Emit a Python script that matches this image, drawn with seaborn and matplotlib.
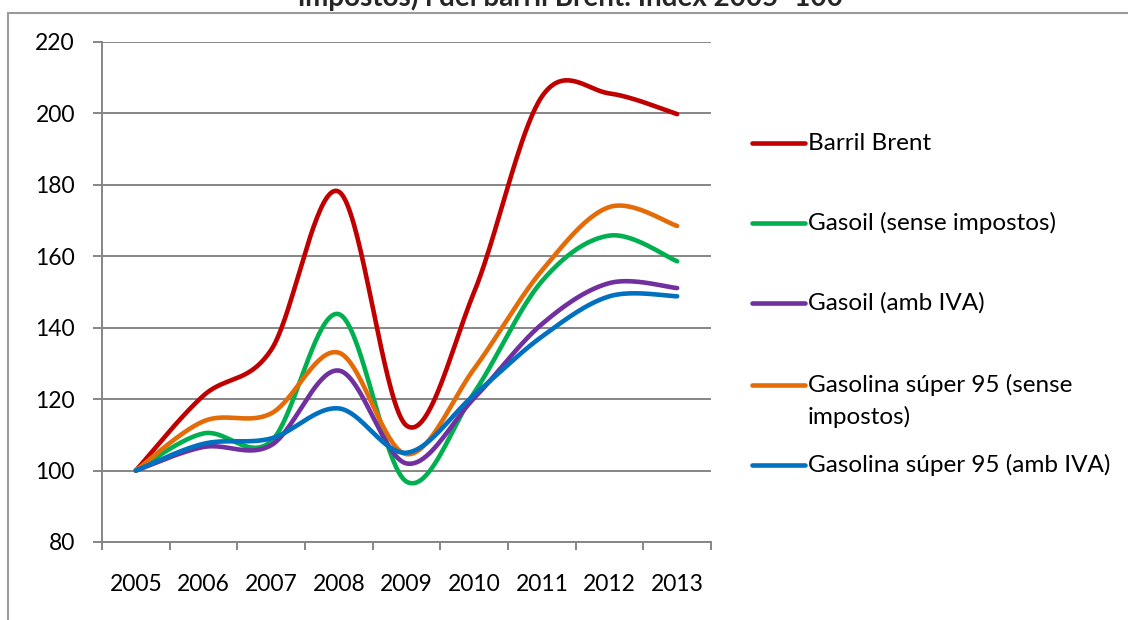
import numpy as np
import pandas as pd
import seaborn as sns
import matplotlib.pyplot as plt
from matplotlib.lines import Line2D

# Index 2005 = 100
years = ['2005', '2006', '2007', '2008', '2009', '2010', '2011', '2012', '2013']
barril_brent = [100, 121.0, 133.8, 178.1, 112.6, 150.0, 204.7, 205.6, 199.8]
gasoil_sense = [100, 110.4, 108.2, 143.8, 96.9, 121.8, 153.0, 165.8, 158.6]
gasoil_iva = [100, 106.6, 107.1, 128.0, 102.0, 120.3, 141.0, 152.5, 151.1]
gasolina_sense = [100, 113.8, 116.0, 133.0, 104.6, 128.5, 156.0, 173.8, 168.5]
gasolina_iva = [100, 107.5, 109.0, 117.4, 105.0, 121.2, 137.5, 148.8, 148.8]

series_names = ['Barril Brent', 'Gasoil (sense impostos)', 'Gasoil (amb IVA)',
                'Gasolina súper 95 (sense impostos)', 'Gasolina súper 95 (amb IVA)']
legend_lines = [['Barril Brent'], ['Gasoil (sense impostos)'], ['Gasoil (amb IVA)'],
                ['Gasolina súper 95 (sense', 'impostos)'], ['Gasolina súper 95 (amb IVA)']]
colors = ['#C00000', '#00B050', '#7030A0', '#E36C09', '#0070C0']
values = [barril_brent, gasoil_sense, gasoil_iva, gasolina_sense, gasolina_iva]


# Excel-style "smoothed line": cubic Bezier segments through each point
def smooth(y, steps=40):
    y = np.asarray(y, dtype=float)
    x = np.arange(len(y), dtype=float)
    xp = np.concatenate([[x[0]], x, [x[-1]]])
    yp = np.concatenate([[y[0]], y, [y[-1]]])
    xs, ys = [], []
    t = np.linspace(0, 1, steps, endpoint=False)
    for i in range(len(y) - 1):
        p0 = np.array([x[i], y[i]])
        p3 = np.array([x[i + 1], y[i + 1]])
        p1 = p0 + (np.array([xp[i + 2], yp[i + 2]]) - np.array([xp[i], yp[i]])) / 6
        p2 = p3 - (np.array([xp[i + 3], yp[i + 3]]) - np.array([xp[i + 1], yp[i + 1]])) / 6
        seg = ((1 - t) ** 3)[:, None] * p0 + (3 * (1 - t) ** 2 * t)[:, None] * p1 \
            + (3 * (1 - t) * t ** 2)[:, None] * p2 + (t ** 3)[:, None] * p3
        xs.extend(seg[:, 0])
        ys.extend(seg[:, 1])
    xs.append(x[-1])
    ys.append(y[-1])
    return xs, ys


frames = []
for name, vals in zip(series_names, values):
    xs, ys = smooth(vals)
    frames.append(pd.DataFrame({'x': xs, 'index': ys, 'serie': name}))
df = pd.concat(frames, ignore_index=True)

sns.set_theme(style='white')
plt.rcParams['font.family'] = ['Lato', 'DejaVu Sans']

fig = plt.figure(figsize=(11.28, 6.2), dpi=100)
ax = fig.add_axes([102 / 1128, 1 - 542 / 620, (711 - 102) / 1128, 500 / 620])

sns.lineplot(data=df, x='x', y='index', hue='serie', hue_order=series_names,
             palette=dict(zip(series_names, colors)), estimator=None, sort=False,
             linewidth=3.3, legend=False, ax=ax, solid_capstyle='round')

grid_color = '#868686'
fs = 16.5
ax.set_ylim(80, 220)
ax.set_yticks(range(80, 221, 20))
ax.set_xlim(-0.5, len(years) - 0.5)
ax.set_xticks(np.arange(len(years) + 1) - 0.5)
ax.set_xticklabels([])
ax.set_xticks(range(len(years)), minor=True)
ax.set_xticklabels(years, minor=True)
ax.yaxis.grid(True, color=grid_color, linewidth=1.4)
ax.set_axisbelow(True)
ax.set_xlabel('')
ax.set_ylabel('')
for side in ['top', 'right']:
    ax.spines[side].set_visible(False)
for side in ['left', 'bottom']:
    ax.spines[side].set_color(grid_color)
    ax.spines[side].set_linewidth(1.4)
ax.tick_params(axis='y', which='major', direction='out', length=6.5, width=1.4,
               color=grid_color, left=True, pad=13, labelsize=fs, labelcolor='black')
ax.tick_params(axis='x', which='major', direction='out', length=6, width=1.4,
               color=grid_color, bottom=True)
ax.tick_params(axis='x', which='minor', length=0, pad=23, labelsize=fs,
               labelcolor='black')

# legend drawn on the right, as in the spreadsheet chart
leg_y = [143, 223, 303, 385, 465]
for lines, col, yy in zip(legend_lines, colors, leg_y):
    fy = 1 - yy / 620
    fig.add_artist(Line2D([752 / 1128, 805 / 1128], [fy, fy], color=col,
                          linewidth=3.3, solid_capstyle='round'))
    for k, txt in enumerate(lines):
        fig.text(808 / 1128, fy - k * 32 / 620, txt, fontsize=17.5, va='center',
                 ha='left', color='black')

# chart-area frame and (cropped) title
fig.add_artist(Line2D([8 / 1128, 8 / 1128], [0, 1 - 13 / 620], color='#9a9a9a', linewidth=1.5))
fig.add_artist(Line2D([8 / 1128, 1], [1 - 13 / 620, 1 - 13 / 620], color='#9a9a9a', linewidth=1.5))
fig.text(570 / 1128, 1 - 6 / 620, 'impostos) i del barril Brent. Índex 2005=100',
         ha='center', va='baseline', fontsize=20, fontweight='bold')

fig.savefig('out.png', dpi=100)
